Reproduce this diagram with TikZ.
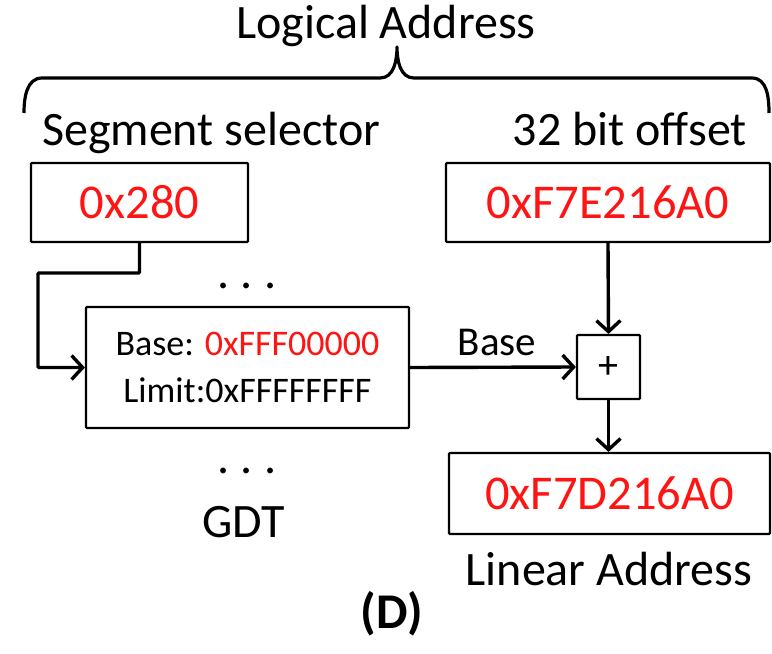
\documentclass[tikz,border=0pt]{standalone}
\usepackage{fontspec}
\setmainfont{Carlito}
\usetikzlibrary{arrows.meta}
\definecolor{hexred}{RGB}{255,20,20}
\tikzset{
  lbl/.style={inner sep=0pt, anchor=base, font=\fontsize{48}{52}\selectfont},
  box/.style={draw, line width=2.2pt, inner sep=0pt, rounded corners=1pt},
  val/.style={text=hexred, font=\fontsize{48.5}{52}\selectfont},
  conn/.style={line width=3.4pt, -{Straight Barb[length=11pt,width=24pt,line width=3.4pt]}},
  brace/.style={line width=3.2pt, line join=round}
}
\begin{document}
\begin{tikzpicture}[x=1pt,y=1pt]
\useasboundingbox (0,0) rectangle (772,-654);
% labels
\node[lbl] (logical) at (386,-38) {Logical Address};
\node[lbl, anchor=base west] (segsel) at (42,-145) {Segment selector};
\node[lbl, anchor=base east] (offlbl) at (747,-145) {32 bit offset};
% brace
\draw[brace] (24,-113) to[out=90,in=180] (42,-78) -- (380,-78)
  to[out=0,in=-90] (397,-47) to[out=-90,in=180] (414,-78) -- (752,-78)
  to[out=0,in=90] (769,-113);
% boxes
\node[box, val, minimum width=217pt, minimum height=79pt] (sel) at (139.5,-202.5) {0x280};
\node[box, val, minimum width=324pt, minimum height=79pt] (off) at (608,-202.5) {0xF7E216A0};
\node[box, minimum width=323pt, minimum height=121pt, align=center,
  font=\fontsize{36}{47}\selectfont] (gdt) at (247.5,-367.5)
  {Base: \textcolor{hexred}{0xFFF00000}\\Limit:0xFFFFFFFF};
\node[box, minimum width=63pt, minimum height=64pt, font=\fontsize{40}{44}\selectfont] (plus) at (608.5,-367) {+};
\node[box, val, minimum width=321pt, minimum height=81pt] (lin) at (609.5,-493.5) {0xF7D216A0};
% dots and captions
\node[lbl] (dotsa) at (247,-288) {.\hspace{11pt}.\hspace{11pt}.};
\node[lbl] (dotsb) at (247,-473) {.\hspace{11pt}.\hspace{11pt}.};
\node[lbl] (gdtlbl) at (244,-537) {GDT};
\node[lbl] (linlbl) at (609,-585) {Linear Address};
\node[lbl, font=\fontsize{50}{54}\selectfont\bfseries] (dlbl) at (392,-628) {(D)};
\node[lbl, font=\fontsize{41}{44}\selectfont] (baselbl) at (497,-355) {Base};
% connectors
\coordinate (bend) at (38,-273);
\draw[conn, rounded corners=1pt] (sel.south) |- (bend) |- (gdt.west);
\draw[conn] (off.south) -- (plus.north);
\draw[conn] (gdt.east) -- (plus.west);
\draw[conn] (plus.south) -- (plus.south |- lin.north);
\end{tikzpicture}
\end{document}
